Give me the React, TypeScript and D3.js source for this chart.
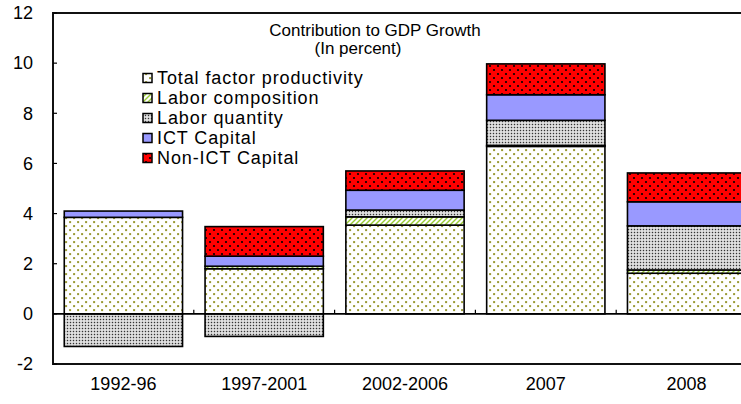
import React from "react";
import * as d3 from "d3";

const categories = ["1992-96", "1997-2001", "2002-2006", "2007", "2008"];
const tfp = [3.85, 1.8, 3.54, 6.68, 1.62];
const laborComposition = [0, 0.1, 0.33, 0.04, 0.13];
const laborQuantity = [-1.3, -0.9, 0.27, 1.0, 1.76];
const ictCapital = [0.25, 0.4, 0.79, 1.02, 0.96];
const nonIctCapital = [0, 1.18, 0.77, 1.23, 1.15];
const seriesNames = [
  "Total factor productivity",
  "Labor composition",
  "Labor quantity",
  "ICT Capital",
  "Non-ICT Capital",
];
const yTicks = [-2, 0, 2, 4, 6, 8, 10, 12];
const title = "Contribution to GDP Growth";
const subtitle = "(In percent)";

const keys = ["tfp", "lc", "lq", "ict", "non"];
const fills = ["url(#pTfp)", "url(#pLc)", "url(#pLq)", "#9999ff", "url(#pNon)"];
const FONT = "'Liberation Sans', Arial, sans-serif";

export default function App() {
  const W = 741;
  const H = 404;
  const left = 53;
  const right = 757;
  const top = 13;
  const bottom = 364;

  const x = d3
    .scaleBand<string>()
    .domain(categories)
    .range([left, right])
    .paddingInner(0.16)
    .paddingOuter(0.08);
  const y = d3.scaleLinear().domain([-2, 12]).range([bottom, top]);

  const rows = categories.map((c, i) => ({
    cat: c,
    tfp: tfp[i],
    lc: laborComposition[i],
    lq: laborQuantity[i],
    ict: ictCapital[i],
    non: nonIctCapital[i],
  }));
  const stacked = d3
    .stack<any>()
    .keys(keys)
    .offset(d3.stackOffsetDiverging)(rows);

  const step = x.step();
  const bw = x.bandwidth();
  const boundaries = categories.slice(0, -1).map((c) => (x(c) as number) + bw + (step - bw) / 2);

  return (
    <svg
      width={W}
      height={H}
      style={{ position: "absolute", left: 0, top: 0, background: "#fff" }}
      fontFamily={FONT}
    >
      <defs>
        <pattern id="pTfp" width="8" height="8" patternUnits="userSpaceOnUse">
          <rect width="8" height="8" fill="#fff" />
          <rect x="1.1" y="1.1" width="2" height="2" fill="#999933" />
          <rect x="5.1" y="5.1" width="2" height="2" fill="#999933" />
        </pattern>
        <pattern id="pLc" width="5" height="5" patternUnits="userSpaceOnUse">
          <rect width="5" height="5" fill="#fff" />
          <path d="M-1,6 L6,-1 M-1,1 L1,-1 M4,6 L6,4" stroke="#99cc33" strokeWidth="1.4" />
        </pattern>
        <pattern id="pLq" width="3" height="3" patternUnits="userSpaceOnUse">
          <rect width="3" height="3" fill="#e6e6e6" />
          <rect x="0.8" y="0.8" width="1.4" height="1.4" fill="#333" />
        </pattern>
        <pattern id="pNon" width="8" height="8" patternUnits="userSpaceOnUse">
          <rect width="8" height="8" fill="#ff0000" />
          <circle cx="2" cy="2" r="1.1" fill="#000" />
          <circle cx="6" cy="6" r="1.1" fill="#000" />
        </pattern>
      </defs>

      {/* frame */}
      <rect x={left} y={top} width={right - left} height={bottom - top} fill="none" stroke="#111" strokeWidth={2} />

      {/* bars */}
      {stacked.map((s, si) =>
        s.map((d, di) => {
          const y0 = Math.min(y(d[0]), y(d[1]));
          const h = Math.abs(y(d[0]) - y(d[1]));
          if (h < 0.01) return null;
          return (
            <rect
              key={`${si}-${di}`}
              x={x(categories[di])}
              y={y0}
              width={bw}
              height={h}
              fill={fills[si]}
              stroke="#000"
              strokeWidth={1.6}
            />
          );
        })
      )}

      {/* zero line */}
      <line x1={left} x2={right} y1={y(0)} y2={y(0)} stroke="#000" strokeWidth={1.8} />
      {boundaries.map((bx, i) => (
        <line key={i} x1={bx} x2={bx} y1={y(0)} y2={y(0) - 4} stroke="#000" strokeWidth={1.2} />
      ))}

      {/* y ticks */}
      {yTicks.map((t) => (
        <g key={t}>
          <line x1={left} x2={left + 4} y1={y(t)} y2={y(t)} stroke="#000" strokeWidth={1.2} />
          <text x={33} y={y(t)} dy="0.35em" textAnchor="end" fontSize={18} fill="#000">
            {t}
          </text>
        </g>
      ))}

      {/* category labels */}
      {categories.map((c) => (
        <text
          key={c}
          x={(x(c) as number) + bw / 2}
          y={390}
          textAnchor="middle"
          fontSize={18}
          fill="#000"
        >
          {c}
        </text>
      ))}

      {/* title */}
      <text x={375} y={36} textAnchor="middle" fontSize={17} fill="#000">
        {title}
      </text>
      <text x={358} y={54} textAnchor="middle" fontSize={17} fill="#000">
        {subtitle}
      </text>

      {/* legend */}
      {seriesNames.map((n, i) => {
        const cy = 78 + i * 20;
        return (
          <g key={n}>
            <rect x={143} y={cy - 4.5} width={9} height={9} fill={fills[i]} stroke="#000" strokeWidth={1.5} />
            <text x={157} y={cy} dy="0.36em" fontSize={18} fill="#000" letterSpacing={0.9}>
              {n}
            </text>
          </g>
        );
      })}
    </svg>
  );
}
